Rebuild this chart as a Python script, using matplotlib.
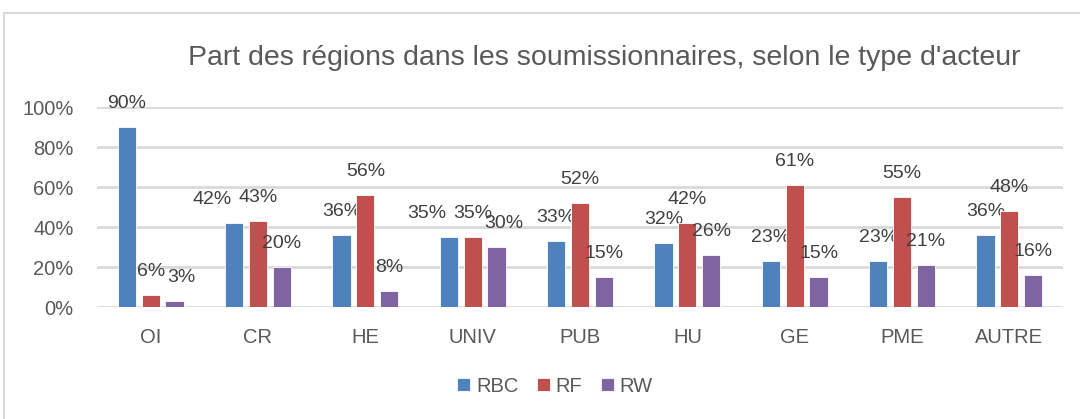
import matplotlib
matplotlib.use('Agg')
import matplotlib.pyplot as plt
import numpy as np
from matplotlib.patches import Rectangle
from matplotlib.ticker import PercentFormatter

categories = ['OI', 'CR', 'HE', 'UNIV', 'PUB', 'HU', 'GE', 'PME', 'AUTRE']
rbc = [90, 42, 36, 35, 33, 32, 23, 23, 36]
rf = [6, 43, 56, 35, 52, 42, 61, 55, 48]
rw = [3, 20, 8, 30, 15, 26, 15, 21, 16]
series = ['RBC', 'RF', 'RW']
colors = ['#4F81BD', '#C0504D', '#8064A2']

plt.rcParams['font.family'] = ['Liberation Sans Narrow', 'Liberation Sans', 'DejaVu Sans']

fig = plt.figure(figsize=(10.8, 4.19), dpi=100)
# outer chart border (cropped on right and bottom)
fig.patches.append(Rectangle((4 / 1080, -0.1), 1.2, 1 - 13 / 419 + 0.1,
                             transform=fig.transFigure, fill=False,
                             edgecolor='#d9d9d9', linewidth=1.5))

ax = fig.add_axes([97 / 1080, 1 - 307 / 419, (1063 - 97) / 1080, 200 / 419])
x = np.arange(len(categories))
width = 0.17
step = 0.223
all_vals = [rbc, rf, rw]
for i, (vals, col, name) in enumerate(zip(all_vals, colors, series)):
    pos = x + (i - 1) * step
    ax.bar(pos, np.array(vals) / 100, width, color=col, label=name,
           edgecolor='white', linewidth=0.6, zorder=3)
    for j, (p, v) in enumerate(zip(pos, vals)):
        dx = 0
        # like Excel, nudge a label sideways when it would sit on its neighbour
        if i == 0 and abs(v - rf[j]) < 5:
            dx = -16
        elif i == 2 and abs(v - rf[j]) < 6:
            dx = 5
        ax.annotate(f'{v}%', (p, v / 100), xytext=(dx, 17), textcoords='offset points',
                    ha='center', va='center', fontsize=14, color='#404040')

ax.set_xlim(-0.5, len(categories) - 0.5)
ax.set_ylim(0, 1)
ax.set_yticks(np.arange(0, 1.01, 0.2))
ax.yaxis.set_major_formatter(PercentFormatter(1.0, decimals=0))
ax.grid(axis='y', color='#d9d9d9', linewidth=2, zorder=0)
ax.set_axisbelow(True)
for s in ['top', 'right', 'left', 'bottom']:
    ax.spines[s].set_visible(False)
ax.set_xticks(x)
ax.set_xticklabels(categories)
ax.tick_params(axis='both', length=0, labelsize=14.5, labelcolor='#595959')
ax.tick_params(axis='x', pad=15)
ax.tick_params(axis='y', pad=17)

fig.text(604 / 1080, 1 - 58 / 419, "Part des régions dans les soumissionnaires, selon le type d'acteur",
         ha='center', va='center', fontsize=20.5, color='#595959')

ax.legend(loc='center', bbox_to_anchor=(555 / 1080, 1 - 386 / 419), bbox_transform=fig.transFigure,
          ncol=3, frameon=False, fontsize=14.5, labelcolor='#595959',
          handlelength=0.65, handleheight=0.65, handletextpad=0.3, columnspacing=0.9)

fig.savefig('out.png', dpi=100)
